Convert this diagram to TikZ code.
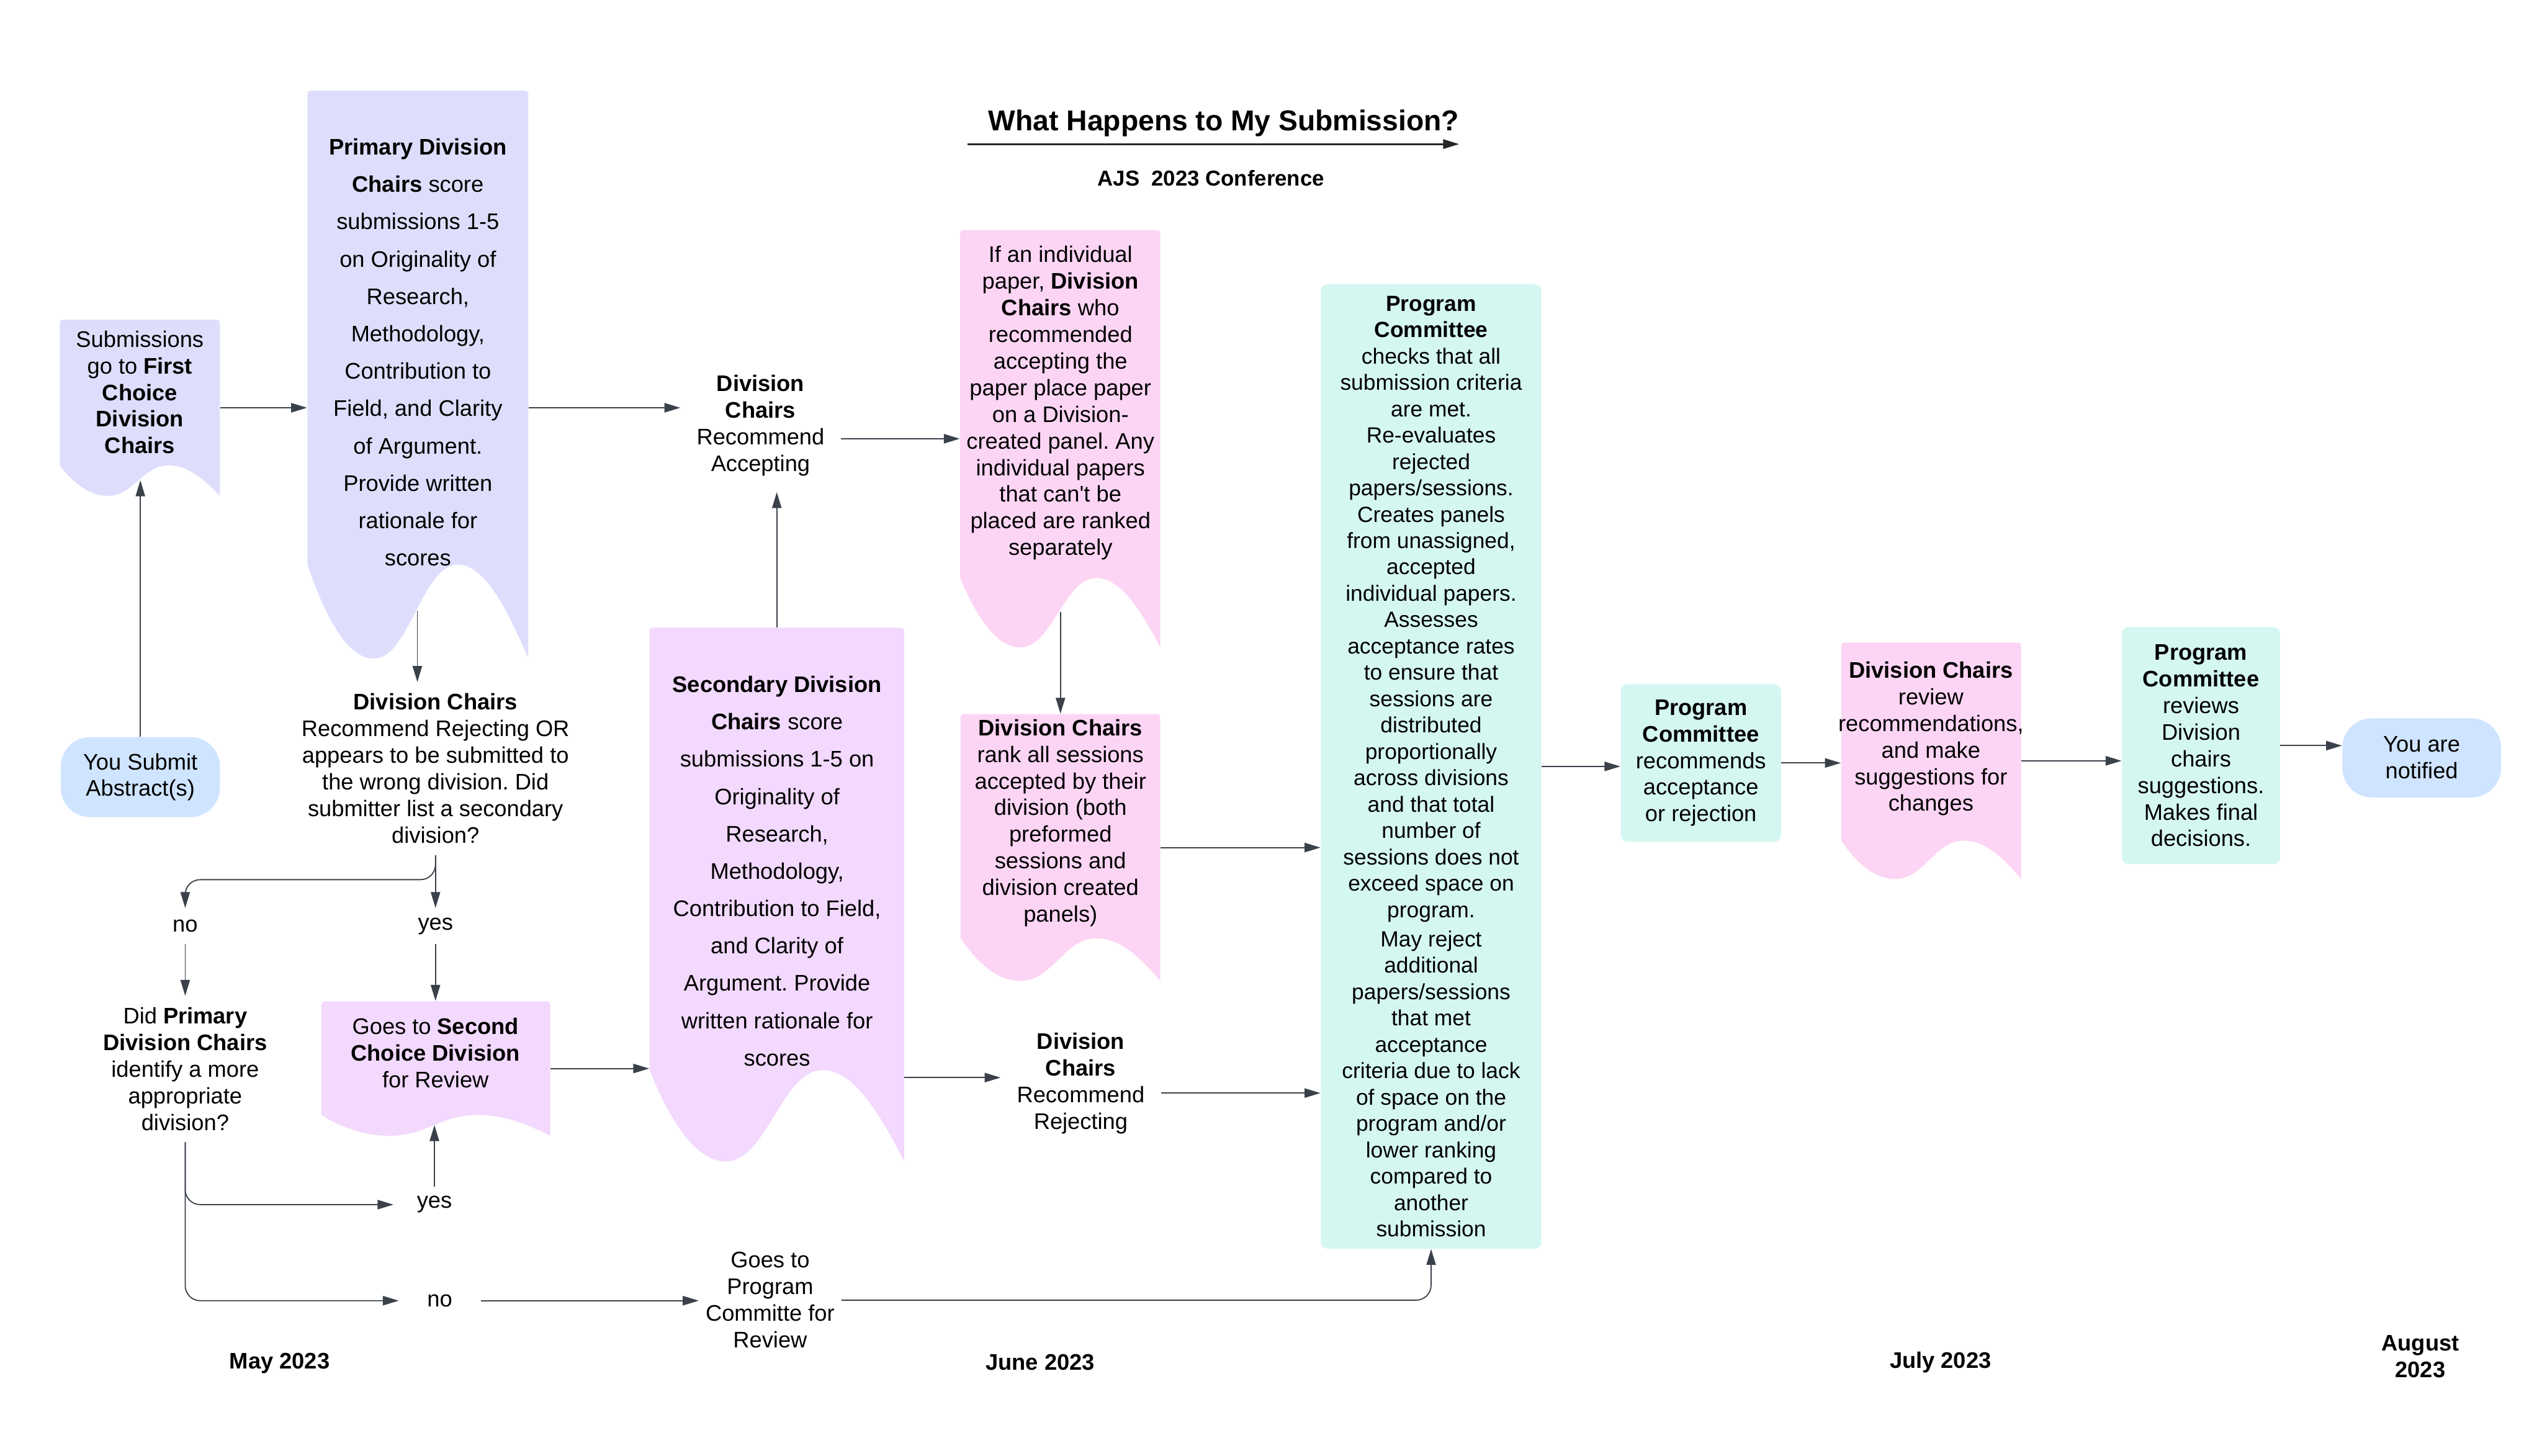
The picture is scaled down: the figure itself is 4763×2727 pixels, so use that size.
\documentclass[tikz,border=0pt]{standalone}
\usepackage{fontspec}
\setmainfont{Liberation Sans}
\usetikzlibrary{arrows.meta,calc}
\definecolor{lav}{HTML}{DEDEFC}
\definecolor{lilac}{HTML}{F2D9FD}
\definecolor{pinkc}{HTML}{FDD5F4}
\definecolor{mint}{HTML}{D5F7F2}
\definecolor{skyb}{HTML}{CFE4FF}
\definecolor{arrc}{HTML}{3A414A}
\frenchspacing
% name, colour, L, T, R, B (end of straight sides), A (wave depth)
\newcommand{\DocBox}[7]{%
  \fill[#2] (#3,#6) -- (#3,{#4+12}) .. controls (#3,#4) .. ({#3+12},#4) -- ({#5-12},#4) .. controls (#5,#4) .. (#5,{#4+12}) -- (#5,{#6+#7})
    .. controls ({#5-0.1*(#5-#3)},{#6+0.45*#7}) and ({#3+0.8*(#5-#3)},#6) .. ({#3+0.68*(#5-#3)},#6)
    .. controls ({#3+0.52*(#5-#3)},#6) and ({#3+0.46*(#5-#3)},{#6+#7}) .. ({#3+0.3*(#5-#3)},{#6+#7})
    .. controls ({#3+0.18*(#5-#3)},{#6+#7}) and ({#3+0.08*(#5-#3)},{#6+0.55*#7}) .. (#3,#6) -- cycle;
  \node[inner sep=0pt, minimum width={(#5-#3)*0.01cm}, minimum height={(#6+#7-#4)*0.01cm}] (#1) at ({(#3+#5)/2},{(#4+#6+#7)/2}) {};%
}
\begin{document}
\begin{tikzpicture}[x=0.01cm,y=-0.01cm,
  arr/.style={draw=arrc, line width=0.6pt, -{Triangle[length=8.5pt,width=5pt]}},
  rc/.style={rounded corners=8pt},
  txt/.style={align=center, font=\fontsize{12}{14.2}\selectfont, inner sep=6pt},
  widetxt/.style={align=center, font=\fontsize{12}{19.9}\selectfont, inner sep=6pt},
  lbl/.style={font=\fontsize{12}{14.2}\selectfont, inner sep=0pt, minimum width=1.52cm, minimum height=0.66cm},
  month/.style={align=center, font=\bfseries\fontsize{12}{14.2}\selectfont},
  rbox/.style={align=center, inner sep=0pt, rounded corners=3.5pt, font=\fontsize{12}{14.2}\selectfont}
]
\useasboundingbox (0,0) rectangle (4763,2727);

% ---------- title ----------
\node[font=\bfseries\fontsize{15.3}{18}\selectfont] (title) at (2293,231) {What Happens to My Submission?};
\node[font=\bfseries\fontsize{11.5}{13}\selectfont] (subtitle) at (2269,334) {AJS\ \ 2023 Conference};
\coordinate (tl) at (1813,270);
\coordinate (tr) at (2734,270);
\draw[draw=black!85, line width=0.9pt, -{Triangle[length=8.5pt,width=5pt]}] (tl) -- (tr);

% ---------- document shapes ----------
\DocBox{sub}{lav}{112}{599}{412}{872}{57}
\DocBox{prim}{lav}{576}{170}{990}{1058}{176}
\DocBox{pink1}{pinkc}{1799}{431}{2174}{1083}{130}
\DocBox{rank}{pinkc}{1800}{1338}{2174}{1758}{80}
\DocBox{dcrev}{pinkc}{3450}{1204}{3787}{1575}{72}
\DocBox{goes2}{lilac}{602}{1876}{1031}{2089}{39}
\DocBox{sec}{lilac}{1217}{1176}{1694}{2005}{171}

\coordinate (subW) at (263,900);
\coordinate (primW) at (782,1144);
\coordinate (pink1W) at (1987,1146);
\coordinate (goes2W) at (816,2108);

% ---------- texts in document shapes ----------
\node[txt] (subT) at (262,735) {Submissions\\go to \textbf{First}\\\textbf{Choice}\\\textbf{Division}\\\textbf{Chairs}};
\node[widetxt] (primT) at (783,660) {\textbf{Primary Division}\\\textbf{Chairs} score\\submissions 1-5\\on Originality of\\Research,\\Methodology,\\Contribution to\\Field, and Clarity\\of Argument.\\Provide written\\rationale for\\scores};
\node[txt] (pink1T) at (1987,755) {If an individual\\paper, \textbf{Division}\\\textbf{Chairs} who\\recommended\\accepting the\\paper place paper\\on a Division-\\created panel. Any\\individual papers\\that can\textquotesingle t be\\placed are ranked\\separately};
\node[txt] (rankT) at (1987,1542) {\textbf{Division Chairs}\\rank all sessions\\accepted by their\\division (both\\preformed\\sessions and\\division created\\panels)};
\node[txt] (dcrevT) at (3618,1384) {\textbf{Division Chairs}\\review\\recommendations,\\and make\\suggestions for\\changes};
\node[txt] (goes2T) at (816,1973) {Goes to \textbf{Second}\\\textbf{Choice Division}\\for Review};
\node[widetxt] (secT) at (1456,1632) {\textbf{Secondary Division}\\\textbf{Chairs} score\\submissions 1-5 on\\Originality of\\Research,\\Methodology,\\Contribution to Field,\\and Clarity of\\Argument. Provide\\written rationale for\\scores};

% ---------- rounded boxes ----------
\node[rbox, fill=mint, minimum width=4.13cm, minimum height=18.06cm, font=\fontsize{11.7}{14.05}\selectfont] (big) at (2681.5,1436) {\textbf{Program}\\\textbf{Committee}\\checks that all\\submission criteria\\are met.\\Re-evaluates\\rejected\\papers/sessions.\\Creates panels\\from unassigned,\\accepted\\individual papers.\\Assesses\\acceptance rates\\to ensure that\\sessions are\\distributed\\proportionally\\across divisions\\and that total\\number of\\sessions does not\\exceed space on\\program.\\[1.5pt]May reject\\additional\\papers/sessions\\that met\\acceptance\\criteria due to lack\\of space on the\\program and/or\\lower ranking\\compared to\\another\\submission};
\node[rbox, fill=mint, minimum width=3cm, minimum height=2.95cm] (pcrec) at (3187,1429.5) {\textbf{Program}\\\textbf{Committee}\\recommends\\acceptance\\or rejection};
\node[rbox, fill=mint, minimum width=2.96cm, minimum height=4.44cm] (pcrev) at (4124,1397) {\textbf{Program}\\\textbf{Committee}\\reviews\\Division\\chairs\\suggestions.\\Makes final\\decisions.};
\node[rbox, fill=skyb, rounded corners=0.55cm, minimum width=2.97cm, minimum height=1.48cm] (notif) at (4537.5,1420) {You are\\notified};
\node[rbox, fill=skyb, rounded corners=0.55cm, minimum width=2.98cm, minimum height=1.5cm] (yousub) at (263,1456) {You Submit\\Abstract(s)};

% ---------- free text nodes ----------
\node[txt, inner sep=8.5pt] (dcra) at (1425,797) {\textbf{Division}\\\textbf{Chairs}\\Recommend\\Accepting};
\node[txt] (dcrrOr) at (816,1440) {\textbf{Division Chairs}\\Recommend Rejecting OR\\appears to be submitted to\\the wrong division. Did\\submitter list a secondary\\division?};
\node[txt] (didprim) at (347,2003) {Did \textbf{Primary}\\\textbf{Division Chairs}\\identify a more\\appropriate\\division?};
\node[txt, inner sep=8.5pt] (dcrr) at (2025,2030) {\textbf{Division}\\\textbf{Chairs}\\Recommend\\Rejecting};
\node[txt, inner xsep=3.5pt] (goesPC) at (1443,2436) {Goes to\\Program\\Committe for\\Review};
\node[lbl] (no1) at (347,1735) {no};
\node[lbl] (yes1) at (816,1735) {yes};
\node[lbl] (yes2) at (814,2257) {yes};
\node[lbl] (no2) at (824,2437) {no};

% ---------- months ----------
\node[month] (may) at (524,2554) {May 2023};
\node[month] (june) at (1949,2553) {June 2023};
\node[month] (july) at (3636,2552) {July 2023};
\node[month] (aug) at (4535,2542) {August\\2023};

% ---------- connectors ----------
\draw[arr] (yousub.north) -- (yousub.north |- subW);
\draw[arr] (sub.east) -- (sub.east -| prim.west);
\draw[arr] (sub.east -| prim.east) -- (sub.east -| dcra.west);
\draw[arr] (dcra.east |- pink1.west) -- (pink1.west);
\draw[arr] (sec.north) -- (sec.north |- dcra.south);
\draw[arr] (primW) -- (primW |- dcrrOr.north);
\draw[arr] (pink1W) -- (pink1W |- rank.north);
\draw[arr] (rank.east) -- (rank.east -| big.west);
\draw[arr] (big.east) -- (big.east -| pcrec.west);
\draw[arr] (pcrec.east) -- (pcrec.east -| dcrev.west);
\draw[arr] (dcrev.east) -- (dcrev.east -| pcrev.west);
\draw[arr] (pcrev.east) -- (pcrev.east -| notif.west);
\draw[arr, rc] (dcrrOr.south) -- ++(0,46) -| (no1.north);
\draw[arr] (dcrrOr.south) -- (dcrrOr.south |- yes1.north);
\draw[arr] (no1.south) -- (no1.south |- didprim.north);
\draw[arr] (yes1.south) -- (yes1.south |- goes2.north);
\draw[arr, rc] (didprim.south) |- (yes2.west);
\draw[arr, rc] (didprim.south) |- (no2.west);
\draw[arr] (yes2.north) -- (yes2.north |- goes2W);
\draw[arr] (goes2.east) -- (goes2.east -| sec.west);
\draw[arr] (no2.east) -- (no2.east -| goesPC.west);
\draw[arr, rc] (goesPC.east) -| (big.south);
\draw[arr] ([yshift=0.11cm]dcrr.west -| sec.east) -- ([yshift=0.11cm]dcrr.west);
\draw[arr] ([yshift=-0.18cm]dcrr.east) -- ([yshift=-0.18cm]dcrr.east -| big.west);
\end{tikzpicture}
\end{document}
